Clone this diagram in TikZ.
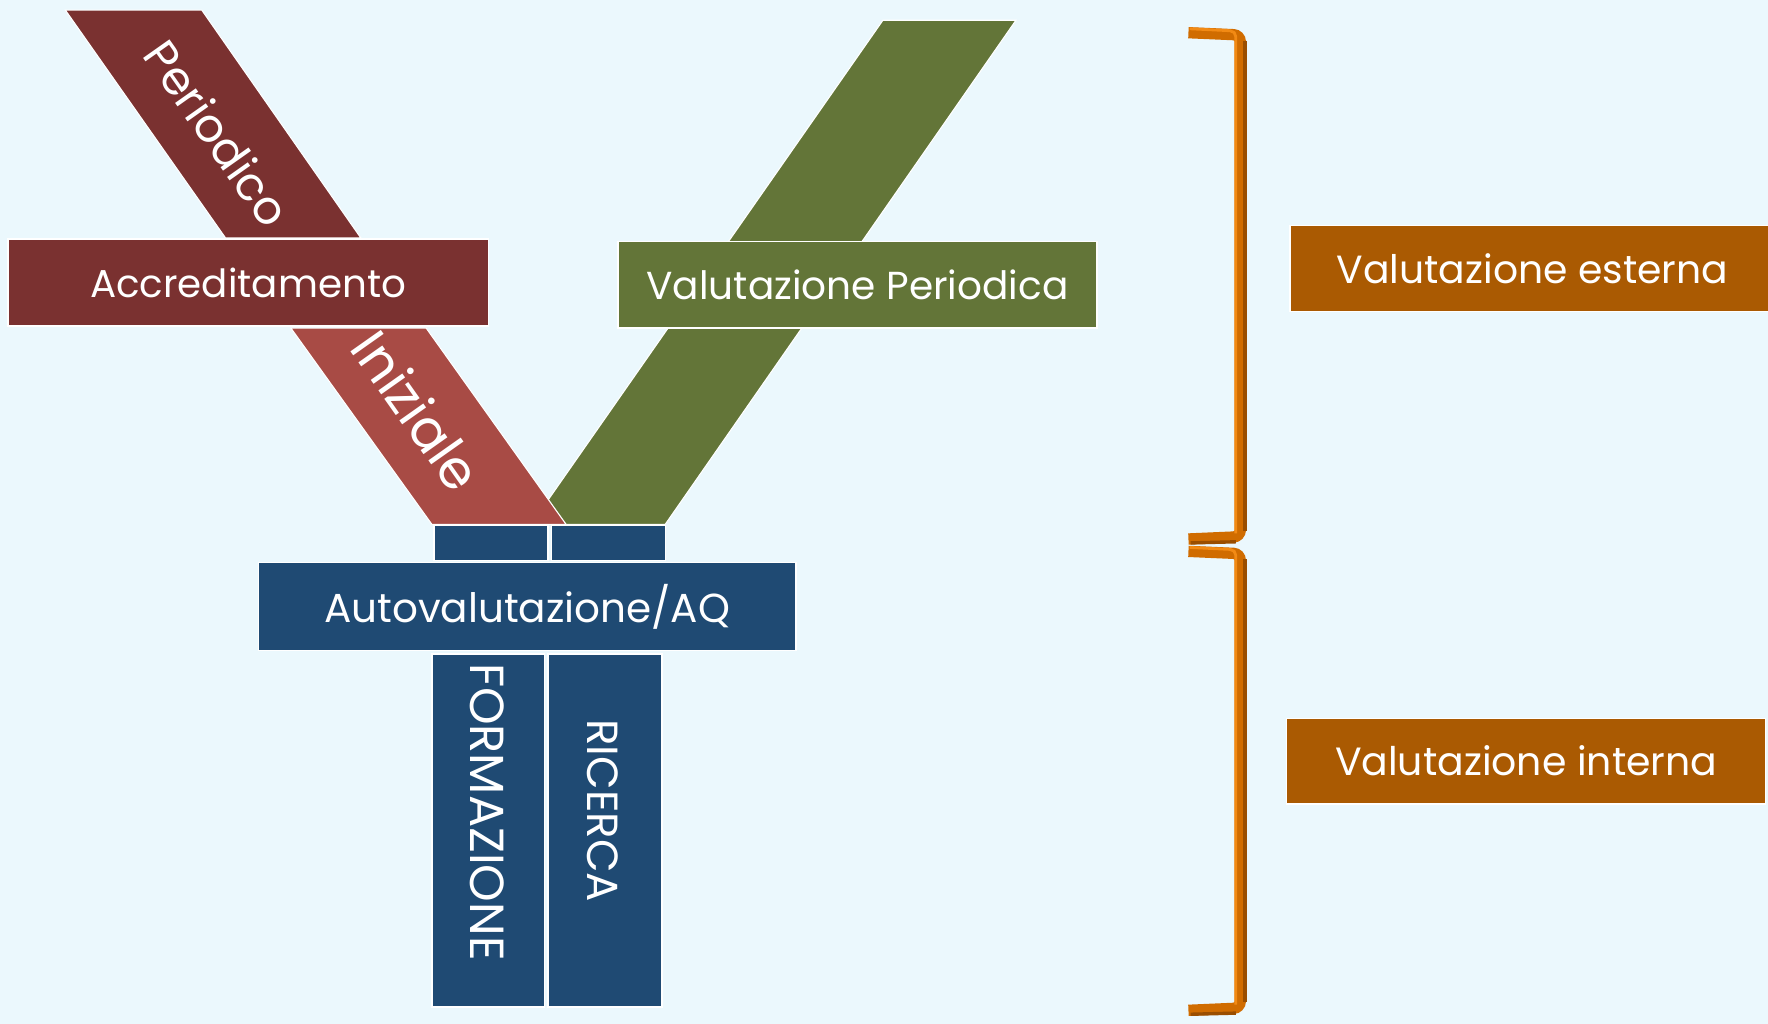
\documentclass[tikz,border=0pt]{standalone}
\usepackage{fontspec}
\setmainfont{Poppins}
\usepackage{graphicx}
\definecolor{bg}{HTML}{EBF8FD}
\definecolor{dred}{HTML}{7A3130}
\definecolor{lred}{HTML}{A84B45}
\definecolor{vgreen}{HTML}{637538}
\definecolor{vblue}{HTML}{1F4A73}
\definecolor{vorange}{HTML}{AA5A02}
\definecolor{brkmain}{HTML}{D06C00}
\definecolor{brkdark}{HTML}{9A4E00}
\definecolor{brklight}{HTML}{F28A14}
\newcommand{\fitw}[2]{\resizebox{#1}{!}{#2}}
\begin{document}
\begin{tikzpicture}[x=1pt,y=-1pt,
  box/.style={rectangle, draw=white, line width=1.2pt, inner sep=0pt, text=white},
  band/.style={draw=white, line width=1pt},
  lbl/.style={text=white, inner sep=0pt},
  brk/.style={line width=10pt, color=brkmain, rounded corners=6pt, line cap=butt},
  brkdk/.style={line width=3pt, color=brkdark, rounded corners=3pt, line cap=butt},
  brkhi/.style={line width=2.5pt, color=brklight, rounded corners=5pt, line cap=butt}]
\fill[bg] (0,0) rectangle (1568,908);
\useasboundingbox (0,0) rectangle (1568,908);

% bands
\filldraw[band, fill=vgreen] (783,18) -- (901,18) -- (590,465) -- (471,465) -- cycle;
\filldraw[band, fill=dred] (58,9) -- (179,9) -- (320,211) -- (200,211) -- cycle;
\filldraw[band, fill=lred] (258,291) -- (378,291) -- (502,465) -- (383,465) -- cycle;

% boxes
\node[box, fill=dred, minimum width=426pt, minimum height=77pt] (accr) at (220,250.5) {\fitw{280pt}{Accreditamento}};
\node[box, fill=vgreen, minimum width=425pt, minimum height=77pt] (vper) at (760.5,252.5) {\fitw{374pt}{Valutazione Periodica}};
\node[box, fill=vblue, minimum width=101pt, minimum height=31pt] (s1) at (435.5,481.5) {};
\node[box, fill=vblue, minimum width=101pt, minimum height=31pt] (s2) at (539.5,481.5) {};
\node[box, fill=vblue, minimum width=477pt, minimum height=78pt] (auto) at (467.5,538) {\fitw{360pt}{Autovalutazione/AQ}};
\node[box, fill=vblue, minimum width=100pt, minimum height=313pt] (form) at (433,736.5) {};
\node[box, fill=vblue, minimum width=101pt, minimum height=313pt] (ric) at (536.5,736.5) {};
\node[box, fill=vorange, minimum width=430pt, minimum height=76pt] (vest) at (1359,238) {\fitw{347pt}{Valutazione esterna}};
\node[box, fill=vorange, minimum width=425pt, minimum height=76pt] (vint) at (1353.5,675) {\fitw{339pt}{Valutazione interna}};

% band labels
\node[lbl, rotate=-54.8] (per) at (193,118) {\fitw{190pt}{Periodico}};
\node[lbl, rotate=-54.8] (ini) at (370,364) {\fitw{160pt}{Iniziale}};
\node[lbl, rotate=-90] (formt) at (432,720) {\fitw{264pt}{FORMAZIONE}};
\node[lbl, rotate=-90] (rict) at (535,719) {\fitw{162pt}{RICERCA}};

% brackets
\draw[brk] (1054,29) -- (1100,31) -- (1100,476) -- (1054,478);
\draw[brkdk] (1104,36) -- (1104,471);
\draw[brkdk] (1056,481.5) -- (1096,480.5);
\draw[brkhi] (1055,25.5) -- (1096,27.5) -- (1096,473);
\draw[brk] (1054,489) -- (1100,491) -- (1100,894) -- (1054,896);
\draw[brkdk] (1104,496) -- (1104,889);
\draw[brkdk] (1056,899.5) -- (1096,898.5);
\draw[brkhi] (1055,485.5) -- (1096,487.5) -- (1096,891);
\end{tikzpicture}
\end{document}
